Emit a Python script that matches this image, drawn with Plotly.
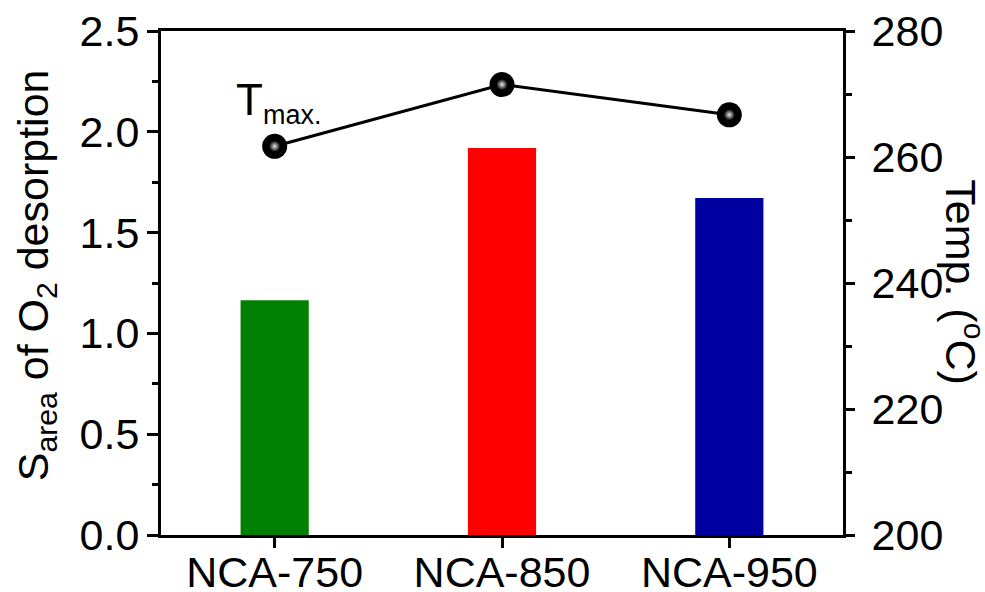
import plotly.graph_objects as go

categories = ["NCA-750", "NCA-850", "NCA-950"]
s_area = [1.165, 1.92, 1.672]
t_max = [261.7, 271.5, 266.7]
bar_colors = ["#008000", "#FF0000", "#0000A0"]

FONT = "Liberation Sans, Arial, sans-serif"
fig = go.Figure()
fig.add_trace(go.Bar(x=categories, y=s_area, marker=dict(color=bar_colors, line=dict(width=0)),
                     width=0.3, showlegend=False))
fig.add_trace(go.Scatter(x=categories, y=t_max, yaxis="y2", mode="lines+markers",
                         line=dict(color="black", width=3),
                         marker=dict(size=25, color="#000000", line=dict(width=0)),
                         showlegend=False))
fig.add_trace(go.Scatter(x=categories, y=t_max, yaxis="y2", mode="markers",
                         marker=dict(size=11, color="#050505",
                                     gradient=dict(type="radial", color="#e8e8e8"),
                                     line=dict(width=0)),
                         showlegend=False, hoverinfo="skip"))

TICK = 43
axis_font = dict(family=FONT, size=TICK, color="black")
fig.update_layout(
    width=985, height=592,
    margin=dict(l=161, r=142, t=31, b=57),
    paper_bgcolor="white", plot_bgcolor="white",
    font=dict(family=FONT, color="black"),
    xaxis=dict(type="category", range=[-0.5, 2.5], showline=True, linewidth=3, linecolor="black",
               mirror=True, ticks="outside", ticklen=10, tickwidth=3, tickcolor="black",
               tickfont=axis_font, showgrid=False, zeroline=False, automargin=False,
               ticklabelstandoff=-13),
    yaxis=dict(range=[0, 2.5], dtick=0.5, tickformat=".1f", showline=True, linewidth=3,
               linecolor="black", ticks="outside", ticklen=11, tickwidth=3, tickcolor="black",
               minor=dict(dtick=0.25, ticks="outside", ticklen=6, tickwidth=3, tickcolor="black"),
               tickfont=axis_font, showgrid=False, zeroline=False, ticklabelstandoff=-1,
               automargin=False),
    yaxis2=dict(range=[200, 280], dtick=20, overlaying="y", side="right", showline=True,
                linewidth=3, linecolor="black", ticks="outside", ticklen=9, tickwidth=3,
                tickcolor="black",
                minor=dict(dtick=10, ticks="outside", ticklen=6, tickwidth=3, tickcolor="black"),
                tickfont=axis_font, showgrid=False, zeroline=False, ticklabelstandoff=8,
                automargin=False),
    annotations=[
        dict(text="S<sub>area</sub> of O<sub>2</sub> desorption", xref="paper", yref="paper",
             x=-0.183, y=0.516, textangle=-90, showarrow=False, font=dict(family=FONT, size=43),
             xanchor="center", yanchor="middle"),
        dict(text="Temp. (<sup>o</sup>C)", xref="paper", yref="paper",
             x=1.177, y=0.502, textangle=90, showarrow=False, font=dict(family=FONT, size=43),
             xanchor="center", yanchor="middle"),
        dict(text="T<sub><span style='font-size:27px'>max.</span></sub>", xref="x", yref="y2",
             x=0.015, y=268.6, showarrow=False,
             font=dict(family=FONT, size=44), xanchor="center", yanchor="middle"),
    ],
)
fig.write_html("out.html")
